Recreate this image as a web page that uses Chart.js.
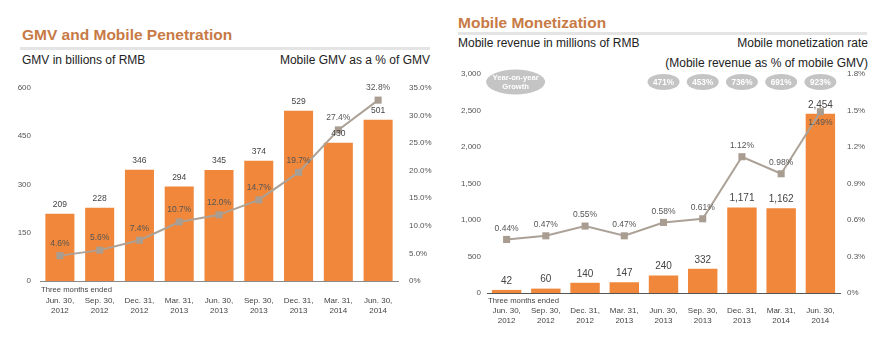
<!DOCTYPE html>
<html>
<head>
<meta charset="utf-8">
<script src="https://cdn.jsdelivr.net/npm/chart.js@4/dist/chart.umd.min.js"></script>
<style>
  body { margin: 0; background: #fff; width: 889px; height: 344px; overflow: hidden; position: relative;
         font-family: "Liberation Sans", Arial, sans-serif; }
  .title { position: absolute; font-weight: bold; font-size: 15.5px; line-height: 18px; color: #c77a45; white-space: nowrap; }
  .rule { position: absolute; height: 3px; background: #e4e4e4; }
  .sub { position: absolute; font-size: 12px; line-height: 14px; color: #222; white-space: nowrap; }
  canvas { position: absolute; }
</style>
</head>
<body>
<div class="title" style="left:22px; top:26px;">GMV and Mobile Penetration</div>
<div class="rule" style="left:20px; top:47px; width:410px;"></div>
<div class="sub" style="left:22px; top:53px;">GMV in billions of RMB</div>
<div class="sub" style="right:459px; top:53px;">Mobile GMV as a % of GMV</div>
<canvas id="gmvChart" width="445" height="274" style="left:0; top:70px;"></canvas>

<div class="title" style="left:458px; top:14px;">Mobile Monetization</div>
<div class="rule" style="left:458px; top:32px; width:409px;"></div>
<div class="sub" style="left:458px; top:36px;">Mobile revenue in millions of RMB</div>
<div class="sub" style="right:21px; top:33px; text-align:right; line-height:20px;">Mobile monetization rate<br>(Mobile revenue as % of mobile GMV)</div>
<canvas id="revChart" width="444" height="284" style="left:445px; top:60px;"></canvas>

<script>
// data
var categories = [
    ['Jun. 30,', '2012'], ['Sep. 30,', '2012'], ['Dec. 31,', '2012'],
    ['Mar. 31,', '2013'], ['Jun. 30,', '2013'], ['Sep. 30,', '2013'],
    ['Dec. 31,', '2013'], ['Mar. 31,', '2014'], ['Jun. 30,', '2014']
];
var gmv = [209, 228, 346, 294, 345, 374, 529, 430, 501];
var mobileShare = [4.6, 5.6, 7.4, 10.7, 12.0, 14.7, 19.7, 27.4, 32.8];
var mobileRevenue = [42, 60, 140, 147, 240, 332, 1171, 1162, 2454];
var monetizationRate = [0.44, 0.47, 0.55, 0.47, 0.58, 0.61, 1.12, 0.98, 1.49];
var yoyGrowth = [null, null, null, null, '471%', '453%', '736%', '691%', '923%'];
var periodNote = 'Three months ended';

var FONT = '"Liberation Sans", Arial, sans-serif';
var ORANGE = '#f0873a';
var GREY_LINE = '#aca196';

// draws value labels, the period note and the growth bubbles
function makeLabelPlugin(cfg) {
    return {
        id: 'labels_' + cfg.name,
        afterDatasetsDraw: function(chart) {
            var ctx = chart.ctx;
            var area = chart.chartArea;
            ctx.save();
            ctx.textAlign = 'center';
            ctx.textBaseline = 'middle';
            chart.data.datasets.forEach(function(ds, i) {
                var meta = chart.getDatasetMeta(i);
                meta.data.forEach(function(el, j) {
                    var v = ds.data[j];
                    if (ds.type === 'bar') {
                        ctx.font = cfg.barFont + 'px ' + FONT;
                        ctx.fillStyle = '#444';
                        ctx.fillText(cfg.barFmt(v), el.x, el.y - cfg.barGap);
                    } else {
                        ctx.font = cfg.lineFont + 'px ' + FONT;
                        ctx.fillStyle = '#555';
                        var below = cfg.below.indexOf(j) >= 0;
                        ctx.fillText(cfg.lineFmt(v), el.x, below ? el.y + cfg.lineGap : el.y - cfg.lineGap);
                    }
                });
            });

            // "Three months ended"
            ctx.textAlign = 'left';
            ctx.font = '7.7px ' + FONT;
            ctx.fillStyle = '#444';
            ctx.fillText(periodNote, area.left + 1, area.bottom + cfg.noteGap);

            if (cfg.bubbles) {
                var xs = chart.scales.x;
                var cy = area.top + 8;
                var x0 = xs.getPixelForValue(0) + 9;
                ctx.fillStyle = '#c4c4c4';
                ctx.beginPath();
                ctx.ellipse(x0, cy, 29.5, 12.5, 0, 0, Math.PI * 2);
                ctx.fill();
                ctx.fillStyle = '#fff';
                ctx.textAlign = 'center';
                ctx.font = 'bold 7.6px ' + FONT;
                ctx.fillText('Year-on-year', x0, cy - 4.5);
                ctx.fillText('Growth', x0, cy + 5);
                yoyGrowth.forEach(function(g, j) {
                    if (!g) return;
                    var x = xs.getPixelForValue(j);
                    ctx.fillStyle = '#c4c4c4';
                    ctx.beginPath();
                    ctx.ellipse(x, cy, 16, 8, 0, 0, Math.PI * 2);
                    ctx.fill();
                    ctx.fillStyle = '#fff';
                    ctx.font = 'bold 8.2px ' + FONT;
                    ctx.fillText(g, x, cy + 0.5);
                });
            }
            ctx.restore();
        }
    };
}

function fixWidth(w) { return function(s) { s.width = w; }; }
function fixHeight(h) { return function(s) { s.height = h; }; }

function baseX(h, pad, borderColor) {
    return {
        grid: { display: false, drawTicks: false, tickLength: 0 },
        border: { display: true, color: borderColor, width: 1 },
        ticks: { color: '#444', font: { family: FONT, size: 8, lineHeight: 1.2 }, padding: pad, maxRotation: 0, autoSkip: false },
        afterFit: fixHeight(h)
    };
}

function baseY(pos, w, max, step, pad, fmt) {
    return {
        position: pos,
        min: 0, max: max,
        grid: { display: false, drawTicks: false, tickLength: 0 },
        border: { display: false },
        ticks: { stepSize: step, color: '#555', padding: pad, font: { family: FONT, size: 8 }, callback: fmt },
        afterFit: fixWidth(w)
    };
}

// left chart: GMV and mobile share
new Chart(document.getElementById('gmvChart').getContext('2d'), {
    data: {
        labels: categories,
        datasets: [{
            type: 'line',
            data: mobileShare,
            yAxisID: 'y1',
            borderColor: GREY_LINE,
            borderWidth: 2,
            pointStyle: 'rect',
            pointRadius: 5,
            pointBackgroundColor: '#a99c90',
            pointBorderWidth: 0,
            order: 0
        }, {
            type: 'bar',
            data: gmv,
            yAxisID: 'y',
            backgroundColor: ORANGE,
            categoryPercentage: 1,
            barPercentage: 0.73,
            order: 1
        }]
    },
    options: {
        responsive: false,
        animation: false,
        layout: { padding: { top: 18, left: 0, right: 0, bottom: 0 } },
        plugins: { legend: { display: false }, tooltip: { enabled: false } },
        scales: {
            x: baseX(63, 15, '#8a8a8a'),
            y: baseY('left', 40, 600, 150, 9, function(v) { return v; }),
            y1: baseY('right', 47, 35, 5, 11, function(v) { return v === 0 ? '0%' : v.toFixed(1) + '%'; })
        }
    },
    plugins: [makeLabelPlugin({
        name: 'gmv',
        barFont: 8.5, barGap: 9,
        lineFont: 8.5, lineGap: 12,
        below: [],
        noteGap: 9,
        barFmt: function(v) { return String(v); },
        lineFmt: function(v) { return v.toFixed(1) + '%'; }
    })]
});

// right chart: mobile revenue and monetization rate
new Chart(document.getElementById('revChart').getContext('2d'), {
    data: {
        labels: categories,
        datasets: [{
            type: 'line',
            data: monetizationRate,
            yAxisID: 'y1',
            borderColor: GREY_LINE,
            borderWidth: 2,
            pointStyle: 'rect',
            pointRadius: 5,
            pointBackgroundColor: '#a99c90',
            pointBorderWidth: 0,
            order: 0
        }, {
            type: 'bar',
            data: mobileRevenue,
            yAxisID: 'y',
            backgroundColor: ORANGE,
            categoryPercentage: 1,
            barPercentage: 0.75,
            order: 1
        }]
    },
    options: {
        responsive: false,
        animation: false,
        layout: { padding: { top: 14, left: 0, right: 0, bottom: 0 } },
        plugins: { legend: { display: false }, tooltip: { enabled: false } },
        scales: {
            x: baseX(51, 13, '#555'),
            y: baseY('left', 42, 3000, 500, 6, function(v) { return v.toLocaleString('en-US'); }),
            y1: baseY('right', 49, 1.8, 0.3, 7, function(v) { return v === 0 ? '0%' : v.toFixed(1) + '%'; })
        }
    },
    plugins: [makeLabelPlugin({
        name: 'rev',
        barFont: 10, barGap: 9,
        lineFont: 8.5, lineGap: 11,
        below: [8],
        noteGap: 8,
        bubbles: true,
        barFmt: function(v) { return v.toLocaleString('en-US'); },
        lineFmt: function(v) { return v.toFixed(2) + '%'; }
    })]
});
</script>
</body>
</html>
